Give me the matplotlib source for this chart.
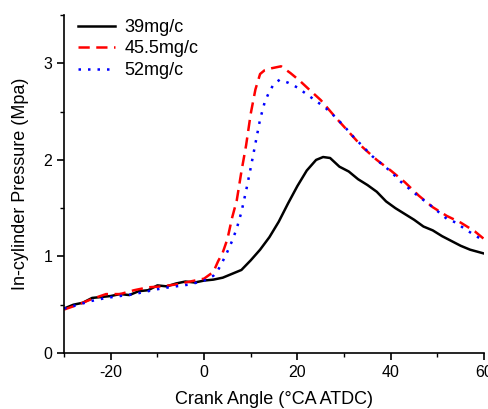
import matplotlib
matplotlib.use("Agg")
import matplotlib.pyplot as plt
from matplotlib.ticker import MultipleLocator

plt.rcParams["font.family"] = ["Liberation Sans", "DejaVu Sans"]
plt.rcParams["axes.unicode_minus"] = False

# crank angle (deg ATDC) / pressure (MPa)
x_39 = [-30, -28, -26, -24, -22, -20, -18, -16, -14, -12, -10, -8, -6, -4, -2, 0,
        2, 4, 6, 8, 10, 12, 14, 16, 18, 20, 22, 24, 25.5, 27, 29, 31, 33, 35, 37,
        39, 41, 43, 45, 47, 49, 51, 53, 55, 57, 60]
p_39 = [0.46, 0.50, 0.52, 0.57, 0.58, 0.59, 0.61, 0.60, 0.64, 0.65, 0.70, 0.69,
        0.72, 0.74, 0.73, 0.75, 0.76, 0.78, 0.82, 0.86, 0.96, 1.07, 1.20, 1.36,
        1.55, 1.73, 1.89, 2.00, 2.03, 2.02, 1.93, 1.88, 1.80, 1.74, 1.67, 1.57,
        1.50, 1.44, 1.38, 1.31, 1.27, 1.21, 1.16, 1.11, 1.07, 1.03]

x_455 = [-30, -27, -24, -21, -18, -15, -12, -9, -6, -3, 0, 2, 3, 4, 5, 6, 7, 8, 9,
         10, 11, 12, 13, 14.5, 16.5, 18.5, 20.5, 22.5, 25, 28, 31, 34, 37, 40, 43,
         46, 49, 52, 55, 58, 60]
p_455 = [0.45, 0.50, 0.56, 0.61, 0.61, 0.65, 0.68, 0.69, 0.71, 0.74, 0.77, 0.84,
         0.95, 1.04, 1.18, 1.40, 1.58, 1.88, 2.15, 2.48, 2.73, 2.89, 2.93, 2.95,
         2.97, 2.90, 2.82, 2.73, 2.62, 2.45, 2.29, 2.13, 2.00, 1.89, 1.77, 1.63,
         1.51, 1.42, 1.35, 1.26, 1.18]

x_52 = [-30, -27, -24, -21, -18, -15, -12, -9, -6, -3, 0, 2, 3, 4, 5, 6, 7, 8, 9,
        10, 11, 12, 13, 14, 15, 16.2, 18, 20, 22, 24, 26, 28, 30, 32, 34, 36, 38,
        40, 42, 44, 46, 48, 50, 52, 54, 56, 58, 60]
p_52 = [0.46, 0.50, 0.54, 0.57, 0.59, 0.61, 0.64, 0.67, 0.69, 0.71, 0.75, 0.80,
        0.86, 0.95, 1.05, 1.16, 1.29, 1.46, 1.68, 1.92, 2.17, 2.42, 2.60, 2.71,
        2.79, 2.83, 2.80, 2.75, 2.68, 2.61, 2.54, 2.45, 2.35, 2.24, 2.14, 2.04,
        1.96, 1.88, 1.78, 1.70, 1.62, 1.55, 1.47, 1.39, 1.35, 1.28, 1.22, 1.16]

fig = plt.figure(figsize=(4.89, 4.09), dpi=100)
ax = fig.add_axes([0.131, 0.137, 0.859, 0.826])

ax.plot(x_39, p_39, color="black", lw=1.8, label="39mg/c")
ax.plot(x_455, p_455, color="red", lw=1.8, ls=(0, (4.5, 2.6)), label="45.5mg/c")
ax.plot(x_52, p_52, color="blue", lw=1.8, ls=(0, (1.0, 2.8)), label="52mg/c")

ax.set_xlim(-30, 60)
ax.set_ylim(0, 3.5)
ax.xaxis.set_major_locator(MultipleLocator(20))
ax.xaxis.set_minor_locator(MultipleLocator(10))
ax.yaxis.set_major_locator(MultipleLocator(1))
ax.yaxis.set_minor_locator(MultipleLocator(0.5))
ax.tick_params(which="major", direction="out", length=5, width=1.2, labelsize=11.5)
ax.tick_params(which="minor", direction="out", length=3, width=1.0)
for s in ("top", "right"):
    ax.spines[s].set_visible(False)
for s in ("left", "bottom"):
    ax.spines[s].set_linewidth(1.2)

ax.set_xlabel("Crank Angle (°CA ATDC)", fontsize=13, labelpad=8)
ax.set_ylabel("In-cylinder Pressure (Mpa)", fontsize=13, labelpad=10)
ax.legend(loc="upper left", frameon=False, fontsize=13, handlelength=2.1,
          labelspacing=0.25, borderaxespad=0.0, handletextpad=0.5,
          bbox_to_anchor=(0.015, 1.01))

fig.savefig("out.png", dpi=100)
